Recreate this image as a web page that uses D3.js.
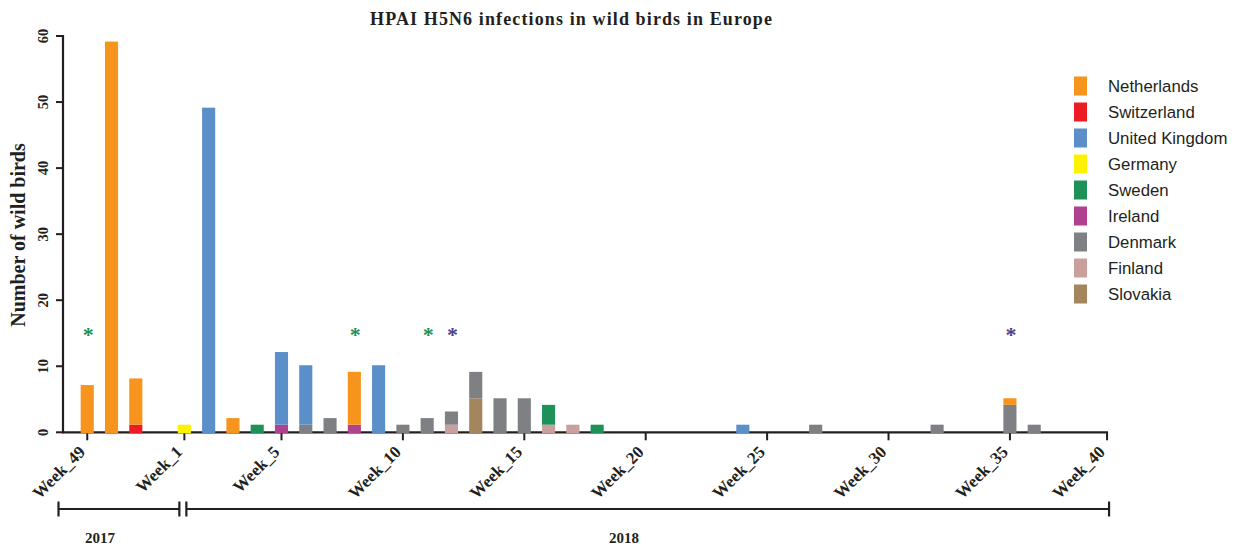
<!DOCTYPE html>
<html>
<head>
<meta charset="utf-8">
<script src="https://cdn.jsdelivr.net/npm/d3@7"></script>
<style>
  html, body { margin: 0; padding: 0; background: #ffffff; }
  svg { display: block; }
</style>
</head>
<body>
<svg id="chart" width="1236" height="546"></svg>
<script>
// ---------------- DATA ----------------
const weeks = ["49","50","51","52","1","2","3","4","5","6","7","8","9","10","11","12","13","14","15","16","17","18","19","20","21","22","23","24","25","26","27","28","29","30","31","32","33","34","35","36","37","38","39"];

const countries = ["Netherlands","Switzerland","United Kingdom","Germany","Sweden","Ireland","Denmark","Finland","Slovakia"];
const colors = ["#f7941d","#ed1c24","#5b8fc9","#fff200","#1e9158","#b0418f","#7f8083","#c9a09e","#a3855e"];

// [week, number of wild birds]
const netherlands   = [["49",7],["50",59],["51",7],["3",2],["8",8],["35",1]];
const switzerland   = [["51",1]];
const unitedKingdom = [["2",49],["5",11],["6",9],["9",10],["24",1]];
const germany       = [["1",1]];
const sweden        = [["4",1],["16",3],["18",1]];
const ireland       = [["5",1],["8",1]];
const denmark       = [["6",1],["7",2],["10",1],["11",2],["12",2],["13",4],["14",5],["15",5],["27",1],["32",1],["35",4],["36",1]];
const finland       = [["12",1],["16",1],["17",1]];
const slovakia      = [["13",5]];

// asterisks: [week, colour]
const starWeeks  = ["49","8","11","12","35"];
const starColors = ["#1e9158","#1e9158","#1e9158","#4b418c","#4b418c"];
const starLevel  = 15;

const tickWeeks  = ["49","1","5","10","15","20","25","30","35","39"];
const tickLabels = ["Week_49","Week_1","Week_5","Week_10","Week_15","Week_20","Week_25","Week_30","Week_35","Week_40"];
const yTicks = [0,10,20,30,40,50,60];

const years = ["2017","2018"];

// ---------------- BUILD TABLE ----------------
const seriesArrays = [netherlands, switzerland, unitedKingdom, germany, sweden, ireland, denmark, finland, slovakia];
const table = weeks.map(w => {
  const row = { week: w };
  countries.forEach((c, i) => {
    const f = seriesArrays[i].find(p => p[0] === w);
    row[c] = f ? f[1] : 0;
  });
  return row;
});

// ---------------- LAYOUT ----------------
const svg = d3.select("#chart");
const serif = "'Liberation Serif','Times New Roman',Times,serif";
const sans = "'Liberation Sans',Arial,Helvetica,sans-serif";
const ink = "#231f20";

const x = d3.scaleBand().domain(weeks).range([75.1, 1119.2]).paddingInner(0.46).paddingOuter(0.23);
const y = d3.scaleLinear().domain([0, 60]).range([432.3, 36]);
const color = d3.scaleOrdinal().domain(countries).range(colors);
const cx = w => x(w) + x.bandwidth() / 2;

const axisX0 = 63, axisX1 = cx(weeks[weeks.length - 1]);

// title
svg.append("text")
  .attr("x", 370).attr("y", 25)
  .attr("font-family", serif).attr("font-weight", "bold").attr("font-size", 18)
  .attr("fill", ink)
  .attr("textLength", 402).attr("lengthAdjust", "spacing")
  .text("HPAI H5N6 infections in wild birds in Europe");

// y title
svg.append("text")
  .attr("transform", `translate(25,235) rotate(-90)`)
  .attr("text-anchor", "middle")
  .attr("font-family", serif).attr("font-weight", "bold").attr("font-size", 20)
  .attr("fill", ink)
  .text("Number of wild birds");

// y axis
const yAxis = svg.append("g");
yAxis.append("line").attr("x1", axisX0).attr("x2", axisX0).attr("y1", y(60) - 1).attr("y2", y(0) + 1)
  .attr("stroke", ink).attr("stroke-width", 2.2);
yAxis.selectAll(".yt").data(yTicks).join("line")
  .attr("x1", axisX0 - 7).attr("x2", axisX0).attr("y1", d => y(d)).attr("y2", d => y(d))
  .attr("stroke", ink).attr("stroke-width", 2);
yAxis.selectAll(".yl").data(yTicks).join("text")
  .attr("transform", d => `translate(47.5,${y(d)}) rotate(-90)`)
  .attr("text-anchor", "middle")
  .attr("font-family", serif).attr("font-weight", "bold").attr("font-size", 14.5)
  .attr("fill", ink)
  .text(d => d);

// x axis
const xAxis = svg.append("g");
xAxis.append("line").attr("x1", axisX0 - 1).attr("x2", axisX1 + 1).attr("y1", y(0)).attr("y2", y(0))
  .attr("stroke", ink).attr("stroke-width", 2.2);
xAxis.selectAll(".xt").data(tickWeeks).join("line")
  .attr("x1", d => cx(d)).attr("x2", d => cx(d)).attr("y1", y(0)).attr("y2", y(0) + 8)
  .attr("stroke", ink).attr("stroke-width", 2);
xAxis.selectAll(".xl").data(tickWeeks).join("text")
  .attr("transform", d => `translate(${cx(d) - 1},${453}) rotate(-45)`)
  .attr("text-anchor", "end")
  .attr("font-family", serif).attr("font-weight", "bold").attr("font-size", 17)
  .attr("fill", ink)
  .text((d, i) => tickLabels[i]);

// bars (stack bottom-up in reverse legend order)
const stack = d3.stack().keys(countries.slice().reverse());
const stacked = stack(table);
svg.append("g").selectAll("g").data(stacked).join("g")
  .attr("fill", d => color(d.key))
  .selectAll("rect").data(d => d.filter(s => s[1] - s[0] > 0)).join("rect")
  .attr("x", d => x(d.data.week))
  .attr("width", x.bandwidth())
  .attr("y", d => y(d[1]) - 1)
  .attr("height", d => y(d[0]) - y(d[1]) + (d[0] === 0 ? 2 : 0));

// asterisks
svg.append("g").selectAll("text").data(starWeeks).join("text")
  .attr("x", d => cx(d) + 1).attr("y", y(starLevel) + 9)
  .attr("text-anchor", "middle")
  .attr("font-family", serif).attr("font-weight", "bold").attr("font-size", 22)
  .attr("fill", (d, i) => starColors[i])
  .text("*");

// legend
const lg = svg.append("g");
countries.forEach((c, i) => {
  const cy = 86 + i * 26;
  lg.append("rect").attr("x", 1074).attr("y", cy - 9.5).attr("width", 13).attr("height", 19).attr("fill", color(c));
  lg.append("text").attr("x", 1108).attr("y", cy + 5.8)
    .attr("font-family", sans).attr("font-size", 16.8).attr("fill", ink).text(c);
});

// year brackets
const brackets = [
  [axisX0 - 4.5, cx("1") - 5],
  [cx("1") + 2, axisX1 + 2]
];
const yb = 509;
const bg = svg.append("g");
brackets.forEach((b, i) => {
  bg.append("line").attr("x1", b[0]).attr("x2", b[1]).attr("y1", yb).attr("y2", yb).attr("stroke", ink).attr("stroke-width", 2);
  [b[0], b[1]].forEach(xx => bg.append("line").attr("x1", xx).attr("x2", xx).attr("y1", yb - 7.5).attr("y2", yb + 7.5).attr("stroke", ink).attr("stroke-width", 2.2));
});
bg.selectAll(".yr").data(years).join("text")
  .attr("x", (d, i) => i === 0 ? 100 : 624).attr("y", 543)
  .attr("text-anchor", "middle")
  .attr("font-family", serif).attr("font-weight", "bold").attr("font-size", 15)
  .attr("fill", ink)
  .text(d => d);
</script>
</body>
</html>
